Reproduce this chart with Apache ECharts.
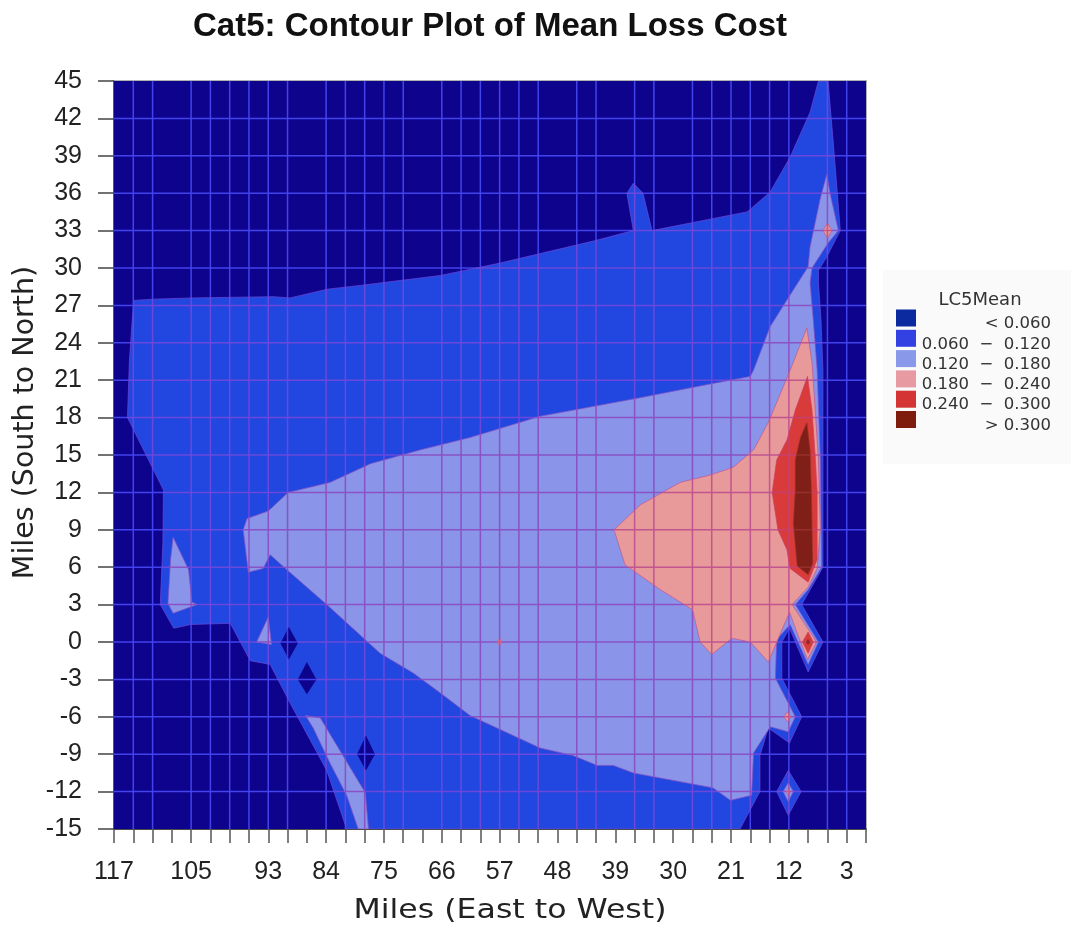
<!DOCTYPE html>
<html><head><meta charset="utf-8">
<style>html,body{margin:0;padding:0;background:#fff}#c{width:1084px;height:926px}</style>
<script src="https://cdn.jsdelivr.net/npm/echarts@6/dist/echarts.min.js"></script>
</head><body><div id="c"></div>
<script>
const xTickLabels = [117,105,93,84,75,66,57,48,39,30,21,12,3];
const gridX = [114,111,105,102,99,96,93,90,84,81,78,75,72,66,63,60,57,54,51,45,42,36,33,27,24,21,18,15,12,6,3];
const gridY = [42,39,36,33,30,27,24,21,18,15,12,9,6,3,0,-3,-6,-9,-12];
const bandLabels = ['< 0.060','0.060\u00a0\u00a0\u2212\u00a0\u00a00.120','0.120\u00a0\u00a0\u2212\u00a0\u00a00.180','0.180\u00a0\u00a0\u2212\u00a0\u00a00.240','0.240\u00a0\u00a0\u2212\u00a0\u00a00.300','> 0.300'];
const legendColors = ['#0b2aa0','#3340e2','#8a98ea','#e89aa2','#d43434','#7e1c0e'];
const fillColors = ['#0e038c','#2247e0','#8a94e8','#e89a9a','#d93a3a','#801f18'];
const lineColors = ['#4343ee','#6a48dc','#8a52c4','#c0558f','#c8406a','#96302a'];

const band0 = [[[117,45],[0,45],[0,-15],[117,-15]]];
const band1 = [
 [[113.9,27.4],[110.9,27.5],[104.7,27.6],[92.2,27.7],[89.6,27.6],[83.8,28.3],[78.7,28.6],[66.2,29.4],[56.9,30.4],[42.1,32.2],[36.2,33.0],[37.2,36.0],[36.2,36.8],[34.7,36.0],[33.3,33.0],[18.5,34.5],[14.9,36.1],[11.8,38.9],[8.7,42.5],[7.4,45],[5.9,45],[5.1,40.1],[4.0,33.0],[6.1,30.9],[7.4,29.8],[7.4,28.8],[7.0,25.8],[6.7,21.8],[6.7,6.0],[10.0,3.0],[6.7,0],[9.0,-2.4],[11.9,1.1],[13.1,0],[13.1,-2.9],[10.0,-6.0],[11.9,-8.1],[15.2,-6.9],[16.5,-9.1],[16.5,-12.0],[19.6,-15],[80.8,-15],[83.9,-10.3],[89.6,-4.9],[92.7,-1.8],[95.8,-1.5],[98.9,1.5],[105.1,1.4],[107.7,1.1],[109.8,3.0],[109.4,7.9],[109.3,12.2],[114.9,18.0],[114.6,22.6],[114.2,25.6]],
 [[12.1,-10.3],[10.1,-12],[12.1,-13.9],[13.9,-12]]
];
const holes = [
 [[89.8,1.2],[88.4,-0.1],[89.8,-1.4],[91.1,-0.1]],
 [[87.0,-1.6],[85.5,-3.0],[87.0,-4.2],[88.4,-3.0]],
 [[77.8,-7.5],[76.4,-9],[77.8,-10.3],[79.2,-9]]
];
const band2 = [
 [[96.9,9.0],[96.3,9.9],[93.0,10.5],[89.9,12.0],[83.4,12.8],[77.1,14.3],[69.4,15.4],[61.6,16.4],[50.7,18.1],[35.1,19.6],[24.2,20.7],[18.0,21.3],[17.5,21.8],[14.9,25.3],[12.1,27.6],[9.0,30.1],[8.7,31.7],[7.1,35.6],[6.1,37.5],[5.6,36.0],[4.3,33.0],[5.9,32.0],[8.4,30.0],[8.7,28.8],[8.2,25.8],[7.6,21.8],[7.1,14.6],[6.9,6.0],[9.0,4.2],[11.0,3.0],[7.4,0],[9.0,-1.8],[11.8,1.4],[13.9,0.2],[14.1,-2.9],[11.0,-6.0],[12.1,-7.2],[14.9,-6.8],[17.5,-8.9],[17.8,-12.3],[21.1,-12.7],[23.8,-11.7],[33.1,-10.8],[36.2,-10.5],[39.3,-9.9],[41.8,-9.9],[45.6,-9.1],[50.7,-8.5],[54.9,-7.5],[61.6,-5.9],[66.2,-4.1],[70.4,-2.5],[75.6,-0.9],[83.9,3.0],[90.1,5.8],[92.7,7.0],[93.8,5.9],[96.1,5.6]],
 [[107.8,8.4],[105.4,5.8],[104.9,3.2],[104.1,3.0],[107.8,2.3],[108.6,3.1],[108.2,6.6]],
 [[93.0,2.0],[92.5,-0.2],[94.8,0]],
 [[87.2,-5.9],[84.9,-6.1],[77.9,-12.1],[77.4,-15],[79.0,-15],[80.8,-12.3],[83.4,-9.7],[86.0,-6.9]],
 [[12.1,-11.3],[11.3,-12],[12.1,-12.8],[12.9,-12]]
];
const band3 = [
 [[39.2,9.0],[35.1,11.0],[28.9,12.8],[24.2,13.4],[20.7,14.0],[17.5,15.4],[15.2,17.6],[11.8,21.8],[9.2,25.2],[8.4,22.4],[7.9,18.6],[7.4,14.6],[7.1,9.2],[7.6,5.9],[9.0,4.4],[11.5,3.0],[7.7,0],[9.1,-1.4],[10.7,0.7],[11.9,2.4],[15.2,-1.6],[18.0,0],[20.9,0.3],[24.0,-1.0],[25.8,0],[27.0,2.6],[32.0,4.2],[37.5,6.2]],
 [[6,33.6],[5.3,33],[6,32.4],[6.7,33]],
 [[12.2,-5.6],[11.7,-6],[12.2,-6.4],[12.8,-6]],
 [[12.1,-11.7],[11.8,-12],[12.1,-12.3],[12.4,-12]],
 [[57,0.3],[56.6,0],[57,-0.3],[57.4,0]]
];
const band4 = [
 [[9.1,21.3],[8.4,18.6],[7.9,14.9],[7.6,12.0],[7.6,6.6],[9.0,4.8],[11.8,5.9],[12.3,7.4],[13.7,9.0],[14.6,12.0],[13.9,14.6],[12.3,16.2],[11.0,18.6]],
 [[9,0.8],[8.2,0],[9,-0.9],[9.9,0]]
];
const band5 = [
 [[9.2,17.6],[8.7,15.4],[8.5,12.0],[8.3,6.3],[9.0,5.4],[10.7,6.1],[11.3,9.5],[11.0,12.2],[11.0,14.6],[10.2,16.4]],
 [[9,0.2],[8.7,0],[9,-0.2],[9.3,0]]
];

function contourSeries(name, polys, level){
  return {
    type:'custom', name, coordinateSystem:'cartesian2d', clip:true, silent:true,
    itemStyle:{color:fillColors[level]},
    data: polys.map((p,i)=>[i]),
    encode:{x:-1,y:-1},
    renderItem(params, api){
      const pts = polys[params.dataIndex].map(p=>api.coord(p));
      const lines = [];
      const tl = api.coord([117,45]), br = api.coord([0,-15]);
      const st = {stroke:lineColors[level], lineWidth:1.5};
      gridX.forEach(v=>{const x=api.coord([v,0])[0]; lines.push({type:'line',shape:{x1:x,y1:tl[1],x2:x,y2:br[1]},style:st});});
      gridY.forEach(v=>{const y=api.coord([0,v])[1]; lines.push({type:'line',shape:{x1:tl[0],y1:y,x2:br[0],y2:y},style:st});});
      return {type:'group',children:[
        {type:'polygon',shape:{points:pts},style:{fill:fillColors[level],stroke:level?lineColors[level]:null,lineWidth:0.7}},
        {type:'group',clipPath:{type:'polygon',shape:{points:pts}},children:lines}
      ]};
    }
  };
}

const chart = echarts.init(document.getElementById('c'),null,{renderer:'canvas'});
chart.setOption({
  animation:false,
  backgroundColor:'#fff',
  title:[
    {text:'Cat5: Contour Plot of Mean Loss Cost',left:485,top:5,textAlign:'center',textStyle:{fontFamily:'Liberation Sans',fontWeight:'bold',fontSize:33,color:'#111'}},
    {text:'LC5Mean',left:975,top:286,textAlign:'center',z:10,textStyle:{fontFamily:'DejaVu Sans',fontWeight:'normal',fontSize:18,color:'#333'}}
  ],
  grid:{left:114,right:218,top:81,bottom:97,outerBoundsMode:'none'},
  graphic:[
    {type:'rect',z:5,silent:true,shape:{x:928,y:312,width:49,height:135},style:{fill:'#fff'}},
    {type:'rect',z:5,silent:true,shape:{x:977,y:313,width:83,height:120},style:{fill:'#fff'}},
    {type:'rect',z:5,silent:true,shape:{x:937,y:285,width:90,height:28},style:{fill:'#fff'}},
    {type:'text',z:10,silent:true,x:510,y:911,scaleX:1.17,style:{text:'Miles (East to West)',font:'27px "DejaVu Sans"',fill:'#222',textAlign:'center',textVerticalAlign:'middle'}}
  ],
  xAxis:[
   {type:'value',min:0,max:117,interval:3,inverse:true,
    axisLine:{onZero:false,lineStyle:{color:'#111',width:1.5}},axisTick:{length:14,lineStyle:{color:'#555',width:1.5}},
    axisLabel:{margin:31,fontFamily:'Liberation Sans',fontSize:25,color:'#222',hideOverlap:false,showMinLabel:true,showMaxLabel:true,
      formatter:v=>xTickLabels.includes(v)?String(v):''},
    splitLine:{show:false}},
   {type:'value',min:0,max:117,interval:117,inverse:true,position:'top',axisLine:{show:true,onZero:false,lineStyle:{color:'#999',width:1.5}},axisTick:{show:false},axisLabel:{show:false},splitLine:{show:false}}
  ],
  yAxis:[
   {type:'value',min:-15,max:45,interval:3,
    name:'Miles (South to North)',nameLocation:'middle',nameGap:74,nameRotate:90,nameMoveOverlap:false,
    nameTextStyle:{fontFamily:'DejaVu Sans',fontSize:28.5,color:'#222',padding:[0,0,0,65]},
    axisLine:{show:true,onZero:false,lineStyle:{color:'#222',width:1.5}},axisTick:{show:true,length:16,lineStyle:{color:'#444',width:1.5}},
    axisLabel:{margin:32,fontFamily:'Liberation Sans',fontSize:25,color:'#222'},
    splitLine:{show:false}},
   {type:'value',min:-15,max:45,interval:60,position:'right',axisLine:{show:true,onZero:false,lineStyle:{color:'#999',width:1.5}},axisTick:{show:false},axisLabel:{show:false},splitLine:{show:false}}
  ],
  legend:{
    orient:'vertical',left:883,top:270,itemWidth:20,itemHeight:17,itemGap:-2.7,icon:'rect',itemStyle:{borderWidth:0},z:6,
    padding:[39.5,20,30,13],backgroundColor:'#fafafa',selectedMode:false,
    formatter:n=>'{a|'+n+'}',
    textStyle:{fontFamily:'DejaVu Sans',fontSize:16.5,color:'#333',rich:{a:{fontFamily:'DejaVu Sans',fontSize:16.5,color:'#333',width:130,align:'right',padding:[12,0,0,0]}}},
    data:bandLabels.map((n,i)=>({name:n,itemStyle:{color:legendColors[i]}}))
  },
  series:[
    contourSeries(bandLabels[0],band0,0),
    contourSeries(bandLabels[1],band1,1),
    contourSeries('holes',holes,0),
    contourSeries(bandLabels[2],band2,2),
    contourSeries(bandLabels[3],band3,3),
    contourSeries(bandLabels[4],band4,4),
    contourSeries(bandLabels[5],band5,5)
  ]
});
</script></body></html>
